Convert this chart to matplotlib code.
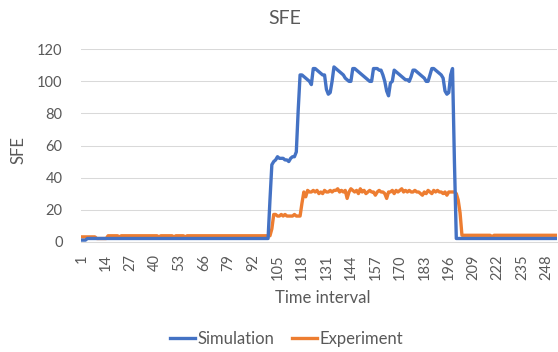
import matplotlib
matplotlib.use("Agg")
import matplotlib.pyplot as plt
import numpy as np
from matplotlib.lines import Line2D

# ---------------- data ----------------
title = "SFE"
x_label = "Time interval"
y_label = "SFE"
series_names = ["Simulation", "Experiment"]
x_ticks = [1, 14, 27, 40, 53, 66, 79, 92, 105, 118, 131, 144, 157, 170, 183, 196, 209, 222, 235, 248]
y_ticks = [0, 20, 40, 60, 80, 100, 120]

# Simulation (time intervals 1..253)
sim_start = [1, 1, 1] + [2] * 97                                   # 1..100
sim_rise = [26, 48, 50, 51, 53, 52, 52, 52, 51, 51, 50, 52, 53, 53, 56, 82, 104]  # 101..117
sim_plateau = [104, 103, 102, 101, 100, 98, 108, 108, 107, 106,       # 118..127
               105, 104, 104, 95, 92, 93, 100, 109, 108, 107,         # 128..137
               106, 105, 104, 102, 101, 100, 100, 108, 108, 107,      # 138..147
               106, 105, 104, 103, 102, 101, 100, 100, 108, 108,      # 148..157
               108, 107, 107, 104, 100, 94, 91, 99, 100, 107,         # 158..167
               106, 105, 104, 103, 102, 101, 101, 100, 103, 107,      # 168..177
               107, 106, 105, 104, 103, 102, 100, 100, 104, 108,      # 178..187
               108, 107, 106, 105, 104, 102, 94, 92, 93, 104,         # 188..197
               108, 50]                                               # 198..199
sim_end = [2] * 54                                                    # 200..253

# Experiment
exp_start = [3] * 8 + [2] * 6                                         # 1..14
exp_base = ([3.7] * 6 + [3] + [3.7] * 20 + [3] + [3.7] * 7 + [3]
            + [3.7] * 5 + [3] + [3.7] * 45)                           # 15..101
exp_rise = [8, 17, 17, 16, 16, 17, 16, 17, 16, 16, 16, 16, 17, 16, 16, 16, 24]  # 102..118
exp_plateau = [31, 28, 32, 31, 31, 32, 31, 32, 30, 31,
               30, 32, 31, 31, 32, 31, 32, 32, 33, 31,
               32, 31, 32, 27, 31, 33, 32, 31, 32, 30,
               33, 31, 32, 30, 31, 32, 31, 31, 29, 31,
               32, 31, 31, 30, 27, 31, 31, 32, 30, 32,
               31, 32, 33, 31, 32, 31, 32, 31, 31, 32,
               31, 31, 30, 29, 31, 30, 32, 31, 30, 32,
               31, 32, 31, 31, 30, 31, 29, 31, 31, 31,
               31, 30, 26]                                            # 119..201
exp_end = [18] + [4] * 16 + [3] + [4] * 34                            # 202..253

simulation = sim_start + sim_rise + sim_plateau + sim_end
experiment = exp_start + exp_base + exp_rise + exp_plateau + exp_end
x = np.arange(1, len(simulation) + 1)

# ---------------- style ----------------
plt.rcParams['font.family'] = ['Lato', 'DejaVu Sans']
TEXT = '#595959'
GRID = '#D9D9D9'
BLUE = '#4472C4'
ORANGE = '#ED7D31'

W, H = 558, 352
fig = plt.figure(figsize=(W / 100, H / 100), dpi=100)
fig.patch.set_facecolor('white')


def fx(px):
    return px / W


def fy(py):
    return 1 - py / H


left, right, top, bottom = 80.8, 557.0, 49.3, 241.7
ax = fig.add_axes([fx(left), fy(bottom), fx(right) - fx(left), fy(top) - fy(bottom)])

ax.plot(x, experiment, color=ORANGE, lw=2.4, solid_joinstyle='round', zorder=3)
ax.plot(x, simulation, color=BLUE, lw=2.4, solid_joinstyle='round', zorder=4)

ax.set_xlim(0.5, len(x) + 0.5)
ax.set_ylim(0, 120)
ax.set_xticks(x_ticks)
ax.set_xticklabels([str(t) for t in x_ticks])
ax.set_yticks(y_ticks)
ax.tick_params(axis='x', length=0, pad=9, labelrotation=90, labelsize=10.5, labelcolor=TEXT)
ax.tick_params(axis='y', length=0, pad=13, labelsize=10.5, labelcolor=TEXT)

for s in ['left', 'right', 'top']:
    ax.spines[s].set_visible(False)
ax.spines['bottom'].set_color(GRID)
ax.spines['bottom'].set_linewidth(0.75)
ax.yaxis.grid(True, color=GRID, lw=0.75)
ax.set_axisbelow(True)

fig.text(fx(284.7), fy(18.3), title, ha='center', va='center', fontsize=14, color=TEXT)
fig.text(fx(322.8), fy(298.3), x_label, ha='center', va='center', fontsize=12, color=TEXT)
fig.text(fx(18), fy(150), y_label, ha='center', va='center', rotation=90, fontsize=12, color=TEXT)

handles = [Line2D([], [], color=BLUE, lw=2.4), Line2D([], [], color=ORANGE, lw=2.4)]
fig.legend(handles, series_names, loc='center', bbox_to_anchor=(fx(286.7), fy(339.3)),
           ncol=2, frameon=False, fontsize=12, handlelength=1.5, handletextpad=0.15,
           columnspacing=1.1, borderpad=0, borderaxespad=0, labelcolor=TEXT)

fig.savefig('out.png', dpi=100)
